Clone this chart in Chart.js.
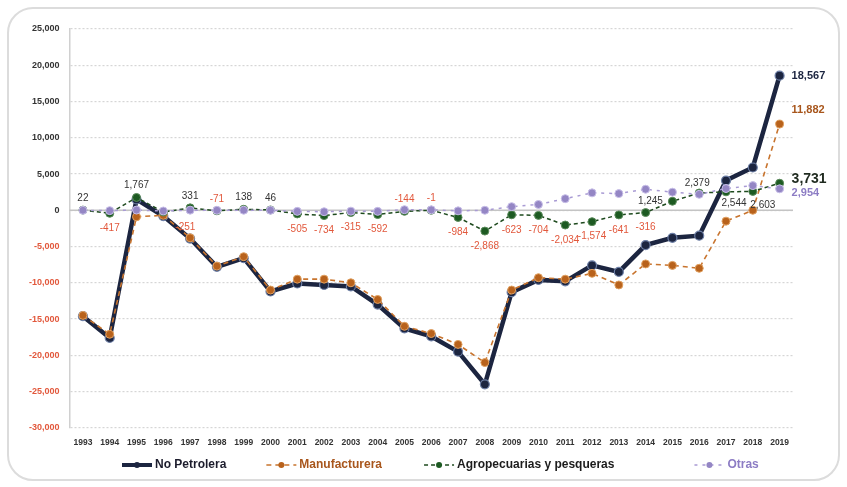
<!DOCTYPE html>
<html>
<head>
<meta charset="utf-8">
<script src="https://cdn.jsdelivr.net/npm/chart.js@4.4.1/dist/chart.umd.min.js"></script>
<style>
  body { margin: 0; background: #fff; }
  .frame {
    position: absolute; left: 7px; top: 7px; width: 829px; height: 470px;
    border: 2px solid #dcdcdc; border-radius: 26px;
  }
  .wrap { position: absolute; left: 0; top: 0; width: 847px; height: 487px; }
</style>
</head>
<body>
<div class="frame"></div>
<div class="wrap"><canvas id="chart" width="847" height="487"></canvas></div>
<script>
// years and series (millones de dólares)
const years = ['1993','1994','1995','1996','1997','1998','1999','2000','2001','2002','2003','2004','2005','2006',
               '2007','2008','2009','2010','2011','2012','2013','2014','2015','2016','2017','2018','2019'];

const noPetrolera = [-14600, -17600, 1500, -800, -3900, -7800, -6600, -11200, -10100, -10300, -10500, -13000, -16300, -17400,
                     -19500, -24000, -11300, -9600, -9800, -7600, -8500, -4800, -3800, -3500, 4100, 5900, 18567];
const manufacturera = [-14500, -17100, -900, -700, -3800, -7700, -6400, -11000, -9500, -9500, -10000, -12300, -16000, -17000,
                       -18500, -21000, -11000, -9300, -9500, -8700, -10300, -7400, -7600, -8000, -1500, 0, 11882];
const agropecuarias = [22, -417, 1767, -251, 331, -71, 138, 46, -505, -734, -315, -592, -144, -1,
                       -984, -2868, -623, -704, -2034, -1574, -641, -316, 1245, 2379, 2544, 2603, 3731];
const otras = [0, -50, 30, -100, 20, 0, 10, 0, -150, -200, -120, -150, 80, 60,
               -80, 0, 500, 800, 1600, 2400, 2300, 2900, 2500, 2200, 3000, 3400, 2954];

const yTicks = [25000, 20000, 15000, 10000, 5000, 0, -5000, -10000, -15000, -20000, -25000, -30000];

const fmt = v => v.toLocaleString('en-US');
const NEG = '#e2583c';
const legendColors = ['#1c1c2c', '#a8561c', '#1c1c1c', '#8c7cc4'];

// labels of the agro series, last values and the legend
const labelPlugin = {
  id: 'labels',
  afterDatasetsDraw(chart) {
    const ctx = chart.ctx;
    const meta = chart.getDatasetMeta(2);
    ctx.save();
    ctx.textAlign = 'center';
    ctx.textBaseline = 'middle';
    ctx.font = '10px Arial, "Liberation Sans", sans-serif';
    const above = [5, 12, 13];        // negatives shown above
    const special = {22: [-22, 0], 23: [-2, -10], 24: [8, 11], 25: [10, 14]};
    agropecuarias.forEach((v, i) => {
      if (i === agropecuarias.length - 1) return;
      const p = meta.data[i];
      let dy = (v >= 0 || above.includes(i)) ? -12 : 15;
      let dx = 0;
      if (i === 3) dx = 22;
      if (special[i]) { dx = special[i][0]; dy = special[i][1]; }
      ctx.fillStyle = v >= 0 ? '#333' : NEG;
      ctx.fillText(fmt(v), p.x + dx, p.y + dy);
    });
    // end labels
    const last = years.length - 1;
    const ends = [
      [0, noPetrolera, '#1c2540', 'bold 11px Arial', 0],
      [1, manufacturera, '#a8561c', 'bold 11px Arial', -14],
      [2, agropecuarias, '#1f2a1f', 'bold 14px Arial', -4],
      [3, otras, '#8c7cc4', 'bold 11px Arial', 4]
    ];
    ctx.textAlign = 'left';
    ends.forEach(e => {
      const p = chart.getDatasetMeta(e[0]).data[last];
      ctx.font = e[3];
      ctx.fillStyle = e[2];
      ctx.fillText(fmt(e[1][last]), p.x + 12, p.y + e[4]);
    });
    ctx.restore();
  },
  beforeDatasetsDraw(chart) {
    const ctx = chart.ctx, y = chart.scales.y.getPixelForValue(0), a = chart.chartArea;
    ctx.save();
    ctx.strokeStyle = '#c4c4c4';
    ctx.lineWidth = 1.5;
    ctx.beginPath(); ctx.moveTo(a.left, y); ctx.lineTo(a.right, y); ctx.stroke();
    ctx.restore();
  },
  afterDraw(chart) {
    // legend at the bottom
    const ctx = chart.ctx;
    const y = 465, gaps = [40, 42, 80];
    let x = 122;
    ctx.save();
    ctx.font = 'bold 12px Arial, "Liberation Sans", sans-serif';
    ctx.textBaseline = 'middle';
    chart.data.datasets.forEach((ds, i) => {
      ctx.strokeStyle = ds.borderColor;
      ctx.lineWidth = i === 0 ? 4 : 1.5;
      ctx.setLineDash(ds.borderDash || []);
      ctx.beginPath(); ctx.moveTo(x, y); ctx.lineTo(x + 30, y); ctx.stroke();
      ctx.setLineDash([]);
      ctx.beginPath();
      ctx.fillStyle = ds.pointBackgroundColor;
      ctx.arc(x + 15, y, 3, 0, Math.PI * 2);
      ctx.fill();
      ctx.fillStyle = legendColors[i];
      ctx.fillText(ds.label, x + 33, y);
      x += 33 + ctx.measureText(ds.label).width + (gaps[i] || 0);
    });
    ctx.restore();
  }
};

const ctx = document.getElementById('chart').getContext('2d');
new Chart(ctx, {
  type: 'line',
  data: {
    labels: years,
    datasets: [
      {
        label: 'No Petrolera', data: noPetrolera, order: 4,
        borderColor: '#1c2540', borderWidth: 4.5,
        pointRadius: 4.5, pointBackgroundColor: '#1c2540', pointBorderColor: '#6d7fa6', pointBorderWidth: 1.2
      },
      {
        label: 'Manufacturera', data: manufacturera, order: 3,
        borderColor: '#c8742e', borderWidth: 1.6, borderDash: [5, 4],
        pointRadius: 4, pointBackgroundColor: '#b8621c', pointBorderColor: '#e0a060', pointBorderWidth: 1
      },
      {
        label: 'Agropecuarias y pesqueras', data: agropecuarias, order: 2,
        borderColor: '#1e4a1e', borderWidth: 1.5, borderDash: [4, 3],
        pointRadius: 4, pointBackgroundColor: '#1d5a22', pointBorderColor: '#5a8a5a', pointBorderWidth: 1
      },
      {
        label: 'Otras', data: otras, order: 1,
        borderColor: '#a99bd4', borderWidth: 1.5, borderDash: [3, 5],
        pointRadius: 4, pointBackgroundColor: '#9486c4', pointBorderColor: '#c8bfe8', pointBorderWidth: 1
      }
    ]
  },
  options: {
    responsive: false,
    animation: false,
    layout: { padding: { left: 19, right: 54, top: 29, bottom: 37 } },
    plugins: {
      tooltip: { enabled: false },
      legend: { display: false }
    },
    scales: {
      x: {
        offset: true,
        grid: { display: false },
        border: { display: false },
        ticks: {
          color: '#333', maxRotation: 0, autoSkip: false, padding: 2,
          font: { family: 'Arial, "Liberation Sans", sans-serif', size: 8.5, weight: 'bold' }
        }
      },
      y: {
        min: -30000, max: 25000,
        afterBuildTicks(axis) { axis.ticks = yTicks.map(v => ({ value: v })); },
        grid: { color: '#d6d6d6', lineWidth: 1.2, drawTicks: false },
        border: { display: true, color: '#d0d0d0', width: 1.5, dash: [2, 2] },
        ticks: {
          padding: 10,
          color: c => c.tick.value < 0 ? NEG : '#333',
          callback: v => fmt(v),
          font: { family: 'Arial, "Liberation Sans", sans-serif', size: 9, weight: 'bold' }
        }
      }
    }
  },
  plugins: [labelPlugin]
});
</script>
</body>
</html>
